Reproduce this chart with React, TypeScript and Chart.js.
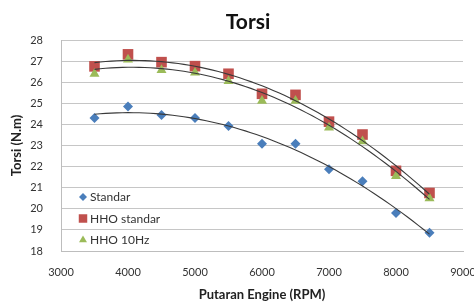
import React, { useEffect, useRef } from "react";
import { Chart, registerables } from "chart.js";

Chart.register(...registerables);

const rpm = [3500, 4000, 4500, 5000, 5500, 6000, 6500, 7000, 7500, 8000, 8500];
const standar = [24.3, 24.85, 24.45, 24.3, 23.92, 23.08, 23.08, 21.88, 21.3, 19.8, 18.86];
const hhoStandar = [26.75, 27.32, 26.95, 26.76, 26.4, 25.45, 25.4, 24.13, 23.52, 21.8, 20.75];
const hho10Hz = [26.4, 27.07, 26.57, 26.45, 26.05, 25.12, 25.12, 23.85, 23.2, 21.55, 20.5];

const seriesNames = ["Standar", "HHO standar", "HHO 10Hz"];
const chartTitle = "Torsi";
const xTitle = "Putaran Engine (RPM)";
const yTitle = "Torsi (N.m)";
const xTicks = [3000, 4000, 5000, 6000, 7000, 8000, 9000];
const yTicks = [18, 19, 20, 21, 22, 23, 24, 25, 26, 27, 28];

const FONT = "Lato, 'Open Sans', sans-serif";

// least squares polynomial fit (Excel-style polynomial trendline)
function polyfit(xs: number[], ys: number[], order: number): number[] {
  const n = order + 1;
  const A: number[][] = [];
  for (let i = 0; i < n; i++) {
    A.push(new Array(n + 1).fill(0));
  }
  const sx = xs.map((x) => x / 1000);
  for (let k = 0; k < sx.length; k++) {
    for (let i = 0; i < n; i++) {
      for (let j = 0; j < n; j++) A[i][j] += Math.pow(sx[k], i + j);
      A[i][n] += ys[k] * Math.pow(sx[k], i);
    }
  }
  for (let i = 0; i < n; i++) {
    let p = i;
    for (let r = i + 1; r < n; r++) if (Math.abs(A[r][i]) > Math.abs(A[p][i])) p = r;
    [A[i], A[p]] = [A[p], A[i]];
    for (let r = 0; r < n; r++) {
      if (r === i) continue;
      const f = A[r][i] / A[i][i];
      for (let c = i; c <= n; c++) A[r][c] -= f * A[i][c];
    }
  }
  return A.map((row, i) => row[n] / A[i][i]);
}

function trend(xs: number[], ys: number[]) {
  const c = polyfit(xs, ys, 2);
  const pts: { x: number; y: number }[] = [];
  const x0 = xs[0];
  const x1 = xs[xs.length - 1];
  const steps = 60;
  for (let s = 0; s <= steps; s++) {
    const x = x0 + ((x1 - x0) * s) / steps;
    const t = x / 1000;
    let y = 0;
    for (let i = 0; i < c.length; i++) y += c[i] * Math.pow(t, i);
    pts.push({ x, y });
  }
  return pts;
}

const colors = ["#4a7ebb", "#c0504d", "#9bbb59"];
const shapes = ["rectRot", "rect", "triangle"];
const radii = [5, 7.5, 5.8];

function drawMarker(ctx: CanvasRenderingContext2D, shape: string, x: number, y: number, r: number, color: string) {
  ctx.save();
  ctx.fillStyle = color;
  ctx.beginPath();
  if (shape === "rectRot") {
    ctx.moveTo(x - r, y);
    ctx.lineTo(x, y + r);
    ctx.lineTo(x + r, y);
    ctx.lineTo(x, y - r);
  } else if (shape === "rect") {
    const h = r * Math.SQRT1_2;
    ctx.rect(x - h, y - h, 2 * h, 2 * h);
  } else {
    const h = (r * Math.sqrt(3)) / 2;
    ctx.moveTo(x, y - r);
    ctx.lineTo(x + h, y + r / 2);
    ctx.lineTo(x - h, y + r / 2);
  }
  ctx.closePath();
  ctx.fill();
  ctx.restore();
}

const titlePlugin = {
  id: "customTitle",
  afterDraw(chart: any) {
    const ctx = chart.ctx as CanvasRenderingContext2D;
    ctx.save();
    ctx.fillStyle = "#111";
    ctx.font = `bold 21px ${FONT}`;
    ctx.textAlign = "center";
    ctx.textBaseline = "middle";
    ctx.fillText(chartTitle, 248, 22);
    ctx.restore();
  },
};

const legendPlugin = {
  id: "insideLegend",
  afterDatasetsDraw(chart: any) {
    const ctx = chart.ctx as CanvasRenderingContext2D;
    const area = chart.chartArea;
    const x = area.left + 22;
    const yStart = area.bottom - 54;
    ctx.save();
    seriesNames.forEach((name, i) => {
      const y = yStart + i * 21.5;
      drawMarker(ctx, shapes[i], x, y, [4, 6, 4.6][i], colors[i]);
      ctx.fillStyle = "#333";
      ctx.font = `12px ${FONT}`;
      ctx.textAlign = "left";
      ctx.textBaseline = "middle";
      ctx.fillText(name, x + 7, y + 0.5);
    });
    ctx.restore();
  },
};

export default function App() {
  const ref = useRef<HTMLCanvasElement | null>(null);
  useEffect(() => {
    if (!ref.current) return;
    const series = [standar, hhoStandar, hho10Hz];
    const scatterSets = series.map((s, i) => ({
      type: "scatter" as const,
      label: seriesNames[i],
      data: rpm.map((x, k) => ({ x, y: s[k] })),
      backgroundColor: colors[i],
      borderColor: colors[i],
      borderWidth: 0,
      pointStyle: shapes[i],
      pointRadius: radii[i],
      pointHoverRadius: radii[i],
      order: 3 - i,
    }));
    const trendSets = series.map((s, i) => ({
      type: "line" as const,
      label: seriesNames[i] + " trend",
      data: trend(rpm, s),
      borderColor: "#3a3a3a",
      borderWidth: 1.1,
      pointRadius: 0,
      fill: false,
      tension: 0,
      order: -1,
    }));
    const chart = new Chart(ref.current, {
      type: "scatter",
      data: { datasets: [...scatterSets, ...trendSets] as any },
      options: {
        animation: false,
        responsive: false,
        devicePixelRatio: 1,
        layout: { padding: { top: 40, right: 11, left: 0, bottom: 0 } },
        plugins: {
          legend: { display: false },
          tooltip: { enabled: false },
          title: { display: false },
        },
        scales: {
          x: {
            type: "linear",
            min: 3000,
            max: 9000,
            afterBuildTicks: (scale: any) => {
              scale.ticks = xTicks.map((v) => ({ value: v }));
            },
            afterFit: (scale: any) => {
              scale.height = 52;
              scale.paddingLeft = 0;
              scale.paddingRight = 0;
            },
            grid: { display: false, drawTicks: false },
            border: { display: true, color: "#bdbdbd", width: 1 },
            ticks: {
              padding: 15,
              color: "#333",
              font: { family: FONT, size: 11 },
              maxRotation: 0,
              autoSkip: false,
              callback: (v: any) => String(v),
            },
            title: {
              display: true,
              text: xTitle,
              color: "#222",
              font: { family: FONT, size: 13, weight: "bold" },
              padding: { top: 0, bottom: 0 },
            },
          },
          y: {
            type: "linear",
            min: 18,
            max: 28,
            afterBuildTicks: (scale: any) => {
              scale.ticks = yTicks.map((v) => ({ value: v }));
            },
            afterFit: (scale: any) => {
              scale.width = 61;
              scale.paddingTop = 0;
              scale.paddingBottom = 0;
            },
            grid: { color: "#c6c6c6", lineWidth: 1, drawTicks: false },
            border: { display: true, color: "#bdbdbd", width: 1 },
            ticks: {
              padding: 18,
              color: "#333",
              font: { family: FONT, size: 11 },
              autoSkip: false,
              callback: (v: any) => String(v),
            },
            title: {
              display: true,
              text: yTitle,
              color: "#222",
              font: { family: FONT, size: 13, weight: "bold" },
              padding: { top: 9, bottom: 0 },
            },
          },
        },
      },
      plugins: [titlePlugin, legendPlugin],
    });
    return () => chart.destroy();
  }, []);
  return (
    <canvas
      ref={ref}
      width={474}
      height={303}
      style={{ position: "fixed", left: 0, top: 0, width: 474, height: 303, background: "#fff" }}
    />
  );
}
